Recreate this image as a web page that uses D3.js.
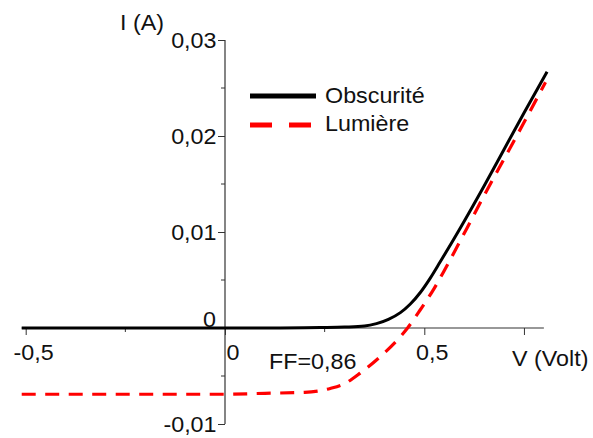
<html>
<head>
  <title>Caractéristique I(V)</title>
  <script src="https://cdn.jsdelivr.net/npm/d3@7/dist/d3.min.js"></script>
  <style>
    body { margin: 0; background: #fff; }
    text { font-family: "Liberation Sans", Arial, sans-serif; fill: #111; }
  </style>
</head>
<body>
  <script>

	// values
	var darkV = [-0.51, -0.25, 0, 0.1, 0.2, 0.25, 0.3, 0.35, 0.38, 0.41, 0.44, 0.465, 0.49, 0.515, 0.54, 0.59, 0.65, 0.7, 0.75, 0.808];
	var darkI = [0, 0, 0, 0, 0.00002, 0.00005, 0.0001, 0.0002, 0.00045, 0.0009, 0.0016, 0.0025, 0.0037, 0.0052, 0.0069, 0.0104, 0.0148, 0.0186, 0.0224, 0.0267];

	var lightV = [-0.51, -0.25, 0, 0.1, 0.2, 0.264, 0.3, 0.339, 0.389, 0.44, 0.458, 0.49, 0.523, 0.553, 0.607, 0.65, 0.708, 0.75, 0.804];
	var lightI = [-0.0069, -0.0069, -0.0069, -0.0068, -0.0067, -0.0063, -0.0058, -0.0047, -0.0030, -0.0009, 0, 0.0019, 0.0040, 0.0062, 0.0104, 0.0138, 0.0182, 0.0214, 0.0256];

	var seriesNames = ['Obscurité', 'Lumière'];

	var xTicks = [-0.5, 0, 0.5, 0.75];
	var xTickLabels = ['-0,5', '0', '0,5', ''];
	var xMinor = [-0.25, 0.25];
	var yTicks = [-0.01, 0.01, 0.02, 0.03];
	var yTickLabels = ['-0,01', '0,01', '0,02', '0,03'];
	var yMinor = [-0.005, 0.005, 0.015, 0.025];

	var W = 593, H = 438;
	var fs = 22, stretch = 'scale(1.06,1)';

	var svg = d3.select('body')
	            .append('svg')
	              .attr('width', W)
	              .attr('height', H);

	var x = d3.scaleLinear().domain([0, 0.5]).range([225, 424.3]);
	var y = d3.scaleLinear().domain([0, 0.03]).range([328, 40]);

	var axisColor = '#333';

	// plain text helper, slightly wider glyphs like the original
	function label(tx, ty, str, anchor){
	  return svg.append('text')
	    .attr('transform', 'translate(' + tx + ',' + ty + ') ' + stretch)
	    .attr('text-anchor', anchor || 'start')
	    .attr('font-size', fs)
	    .text(str);
	}

	// axis lines
	svg.append('line')
	  .attr('x1', x(-0.51)).attr('x2', x(0.8))
	  .attr('y1', y(0)).attr('y2', y(0))
	  .attr('stroke', axisColor).attr('stroke-width', 1.2);
	svg.append('line')
	  .attr('x1', x(0)).attr('x2', x(0))
	  .attr('y1', y(0.03)).attr('y2', y(-0.01))
	  .attr('stroke', axisColor).attr('stroke-width', 1.2);

	// y axis, ticks to the left
	var yAxis = svg.append('g')
	  .attr('transform', 'translate(' + x(0) + ',0)')
	  .call(d3.axisLeft(y).tickValues(yTicks).tickSize(7).tickPadding(1)
	    .tickFormat(function(d, i){ return yTickLabels[i]; }));
	yAxis.select('.domain').remove();
	yAxis.selectAll('line').attr('stroke', axisColor);
	yAxis.selectAll('text').attr('font-size', fs).attr('font-family', null)
	  .attr('dy', '0.34em').attr('transform', stretch);

	svg.append('g').selectAll('line')
	  .data(yMinor).enter()
	  .append('line')
	  .attr('x1', x(0) - 4).attr('x2', x(0))
	  .attr('y1', function(d){ return y(d); })
	  .attr('y2', function(d){ return y(d); })
	  .attr('stroke', axisColor);

	// y = 0 label sits above the horizontal axis
	label(x(0) - 9, y(0) - 1, '0', 'end');

	// x axis, ticks downwards
	var xAxis = svg.append('g')
	  .attr('transform', 'translate(0,' + y(0) + ')')
	  .call(d3.axisBottom(x).tickValues(xTicks).tickSize(7)
	    .tickFormat(function(d, i){ return xTickLabels[i]; }));
	xAxis.select('.domain').remove();
	xAxis.selectAll('line').attr('stroke', axisColor);
	xAxis.selectAll('text')
	  .attr('font-size', fs).attr('font-family', null)
	  .attr('y', 32).attr('dy', 0).attr('dx', 7).attr('transform', stretch);

	svg.append('g').selectAll('line')
	  .data(xMinor).enter()
	  .append('line')
	  .attr('x1', function(d){ return x(d); })
	  .attr('x2', function(d){ return x(d); })
	  .attr('y1', y(0)).attr('y2', y(0) + 4)
	  .attr('stroke', axisColor);

	// axis titles and annotation
	label(164, 30, 'I (A)', 'end');
	label(512, 366, 'V (Volt)');
	label(269, 369, 'FF=0,86');

	// curves
	function pts(vs, is){
	  return vs.map(function(v, i){ return [v, is[i]]; });
	}
	var line = d3.line()
	  .x(function(d){ return x(d[0]); })
	  .y(function(d){ return y(d[1]); })
	  .curve(d3.curveMonotoneX);

	svg.append('path')
	  .attr('d', line(pts(darkV, darkI)))
	  .attr('fill', 'none')
	  .attr('stroke', '#000')
	  .attr('stroke-width', 3);

	svg.append('path')
	  .attr('d', line(pts(lightV, lightI)))
	  .attr('fill', 'none')
	  .attr('stroke', '#ff0000')
	  .attr('stroke-width', 3.2)
	  .attr('stroke-dasharray', '14,9.5');

	// legend
	var legend = svg.append('g');
	legend.append('line')
	  .attr('x1', 250).attr('x2', 316).attr('y1', 96).attr('y2', 96)
	  .attr('stroke', '#000').attr('stroke-width', 5);
	legend.append('line')
	  .attr('x1', 250).attr('x2', 312).attr('y1', 125).attr('y2', 125)
	  .attr('stroke', '#ff0000').attr('stroke-width', 5)
	  .attr('stroke-dasharray', '22,17');
	seriesNames.forEach(function(d, i){
	  label(325, 103 + i * 28, d);
	});

  </script>
</body>
</html>
